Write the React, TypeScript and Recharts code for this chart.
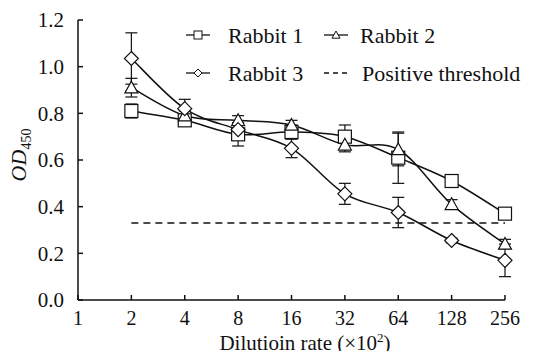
import React from 'react';
import { LineChart, Line, XAxis, YAxis, ErrorBar } from 'recharts';

// dilution rate categories (x10^2)
const rates = ['1', '2', '4', '8', '16', '32', '64', '128', '256'];

// OD450 means
const rabbit1 = [null, 0.81, 0.77, 0.71, 0.72, 0.7, 0.61, 0.51, 0.37];
const rabbit2 = [null, 0.91, 0.79, 0.77, 0.75, 0.665, 0.645, 0.41, 0.24];
const rabbit3 = [null, 1.035, 0.82, 0.73, 0.65, 0.455, 0.375, 0.255, 0.17];

// standard deviations
const err1 = [null, 0.03, 0.02, 0.05, 0.03, 0.05, 0.11, 0.01, 0.01];
const err2 = [null, 0.04, 0.02, 0.02, 0.02, 0.03, 0.07, 0.02, 0.02];
const err3 = [null, 0.11, 0.04, 0.03, 0.04, 0.045, 0.065, 0.01, 0.07];

const thresholdValue = 0.33;
const yTicks = [0, 0.2, 0.4, 0.6, 0.8, 1.0, 1.2];

const data = rates.map((rate, i) => ({
  rate,
  r1: rabbit1[i],
  r2: rabbit2[i],
  r3: rabbit3[i],
  e1: err1[i],
  e2: err2[i],
  e3: err3[i],
  threshold: i === 0 ? null : thresholdValue,
}));

const FONT = 'Liberation Serif, Times New Roman, serif';
const INK = '#111';
const txt = { fontFamily: FONT, fill: INK };

// excel-like smoothing (catmull-rom)
const smoothCurve = (context: any) => {
  let pts: number[][] = [];
  return {
    areaStart() {},
    areaEnd() {},
    lineStart() {
      pts = [];
    },
    point(x: number, y: number) {
      pts.push([+x, +y]);
    },
    lineEnd() {
      if (!pts.length) return;
      context.moveTo(pts[0][0], pts[0][1]);
      for (let i = 0; i < pts.length - 1; i++) {
        const p0 = pts[i - 1] || pts[i];
        const p1 = pts[i];
        const p2 = pts[i + 1];
        const p3 = pts[i + 2] || p2;
        context.bezierCurveTo(
          p1[0] + (p2[0] - p0[0]) / 6,
          p1[1] + (p2[1] - p0[1]) / 6,
          p2[0] - (p3[0] - p1[0]) / 6,
          p2[1] - (p3[1] - p1[1]) / 6,
          p2[0],
          p2[1]
        );
      }
    },
  };
};

const marker = (shape: string, size: number) => (props: any) => {
  const { cx, cy, index } = props;
  if (cx == null || cy == null || props.value == null) return <g key={index} />;
  const h = size / 2;
  if (shape === 'square')
    return <rect key={index} x={cx - h} y={cy - h} width={size} height={size} fill="#fff" stroke={INK} strokeWidth={1.2} />;
  if (shape === 'triangle')
    return (
      <polygon key={index} points={`${cx},${cy - h} ${cx + h},${cy + h * 0.8} ${cx - h},${cy + h * 0.8}`}
        fill="#fff" stroke={INK} strokeWidth={1.2} />
    );
  return (
    <polygon key={index} points={`${cx},${cy - h} ${cx + h},${cy} ${cx},${cy + h} ${cx - h},${cy}`}
      fill="#fff" stroke={INK} strokeWidth={1.2} />
  );
};

const YTick = (props: any) => {
  const { x, y, payload } = props;
  const ax = x + 14;
  return (
    <g>
      <line x1={ax} x2={ax + 5} y1={y} y2={y} stroke={INK} strokeWidth={1.5} />
      <text x={x} y={y} dy="0.35em" textAnchor="end" fontSize={21} style={txt}>
        {Number(payload.value).toFixed(1)}
      </text>
    </g>
  );
};

const XTick = (props: any) => {
  const { x, y, payload } = props;
  const ay = y - 11;
  return (
    <g>
      <line x1={x} x2={x} y1={ay} y2={ay - 5} stroke={INK} strokeWidth={1.5} />
      <text x={x} y={y} dy="0.71em" textAnchor="middle" fontSize={20} style={txt}>
        {payload.value}
      </text>
    </g>
  );
};

const LegendMark = ({ x, y, shape }: { x: number; y: number; shape: string }) => {
  const size = 8;
  const h = size / 2;
  let m: React.ReactNode;
  if (shape === 'square') m = <rect x={x - h} y={y - h} width={size} height={size} fill="#fff" stroke={INK} />;
  else if (shape === 'triangle')
    m = <polygon points={`${x},${y - h} ${x + h},${y + h * 0.8} ${x - h},${y + h * 0.8}`} fill="#fff" stroke={INK} />;
  else m = <polygon points={`${x},${y - h} ${x + h},${y} ${x},${y + h} ${x - h},${y}`} fill="#fff" stroke={INK} />;
  return (
    <g>
      <line x1={x - 12} x2={x + 12} y1={y} y2={y} stroke={INK} strokeWidth={1.3} />
      {m}
    </g>
  );
};

export default function App() {
  return (
    <div style={{ position: 'relative', width: 547, height: 359, margin: -8, background: '#fff', fontFamily: FONT }}>
      <LineChart width={547} height={359} data={data} margin={{ top: 20, right: 42, bottom: 29, left: 0 }}>
        <XAxis
          dataKey="rate"
          height={30}
          interval={0}
          tickSize={0}
          tickMargin={11}
          tickLine={false}
          axisLine={{ stroke: INK, strokeWidth: 1.5 }}
          tick={<XTick />}
          label={{
            content: () => (
              <text x={305} y={350} textAnchor="middle" fontSize={21} style={txt}>
                Dilutioin rate (×10<tspan dy={-8} fontSize={13}>2</tspan><tspan dy={8}>)</tspan>
              </text>
            ),
          }}
        />
        <YAxis
          width={78}
          domain={[0, 1.2]}
          ticks={yTicks}
          tickSize={0}
          tickMargin={14}
          tickLine={false}
          axisLine={{ stroke: INK, strokeWidth: 1.5 }}
          tick={<YTick />}
          label={{
            content: () => (
              <text transform="translate(26,155) rotate(-90)" textAnchor="middle" fontSize={22} style={txt}>
                <tspan fontStyle="italic">OD</tspan>
                <tspan dy={5} fontSize={14}>450</tspan>
              </text>
            ),
          }}
        />
        <Line dataKey="threshold" stroke={INK} strokeWidth={1.5} strokeDasharray="7 5" dot={false} isAnimationActive={false} />
        <Line dataKey="r1" type={smoothCurve as any} stroke={INK} strokeWidth={1.5} dot={marker('square', 13)} isAnimationActive={false}>
          <ErrorBar dataKey="e1" width={6} stroke={INK} strokeWidth={1.2} />
        </Line>
        <Line dataKey="r2" type={smoothCurve as any} stroke={INK} strokeWidth={1.5} dot={marker('triangle', 13)} isAnimationActive={false}>
          <ErrorBar dataKey="e2" width={6} stroke={INK} strokeWidth={1.2} />
        </Line>
        <Line dataKey="r3" type={smoothCurve as any} stroke={INK} strokeWidth={1.5} dot={marker('diamond', 14)} isAnimationActive={false}>
          <ErrorBar dataKey="e3" width={6} stroke={INK} strokeWidth={1.2} />
        </Line>
      </LineChart>
      <svg width={547} height={100} style={{ position: 'absolute', left: 0, top: 0 }}>
        <g fontSize={22} style={txt}>
          <LegendMark x={198} y={35} shape="square" />
          <text x={228} y={35} dy="0.35em">Rabbit 1</text>
          <LegendMark x={336} y={35} shape="triangle" />
          <text x={360} y={35} dy="0.35em">Rabbit 2</text>
          <LegendMark x={198} y={73} shape="diamond" />
          <text x={228} y={73} dy="0.35em">Rabbit 3</text>
          <line x1={324} x2={350} y1={73} y2={73} stroke={INK} strokeWidth={1.3} strokeDasharray="5 4" />
          <text x={362} y={73} dy="0.35em">Positive threshold</text>
        </g>
      </svg>
    </div>
  );
}
